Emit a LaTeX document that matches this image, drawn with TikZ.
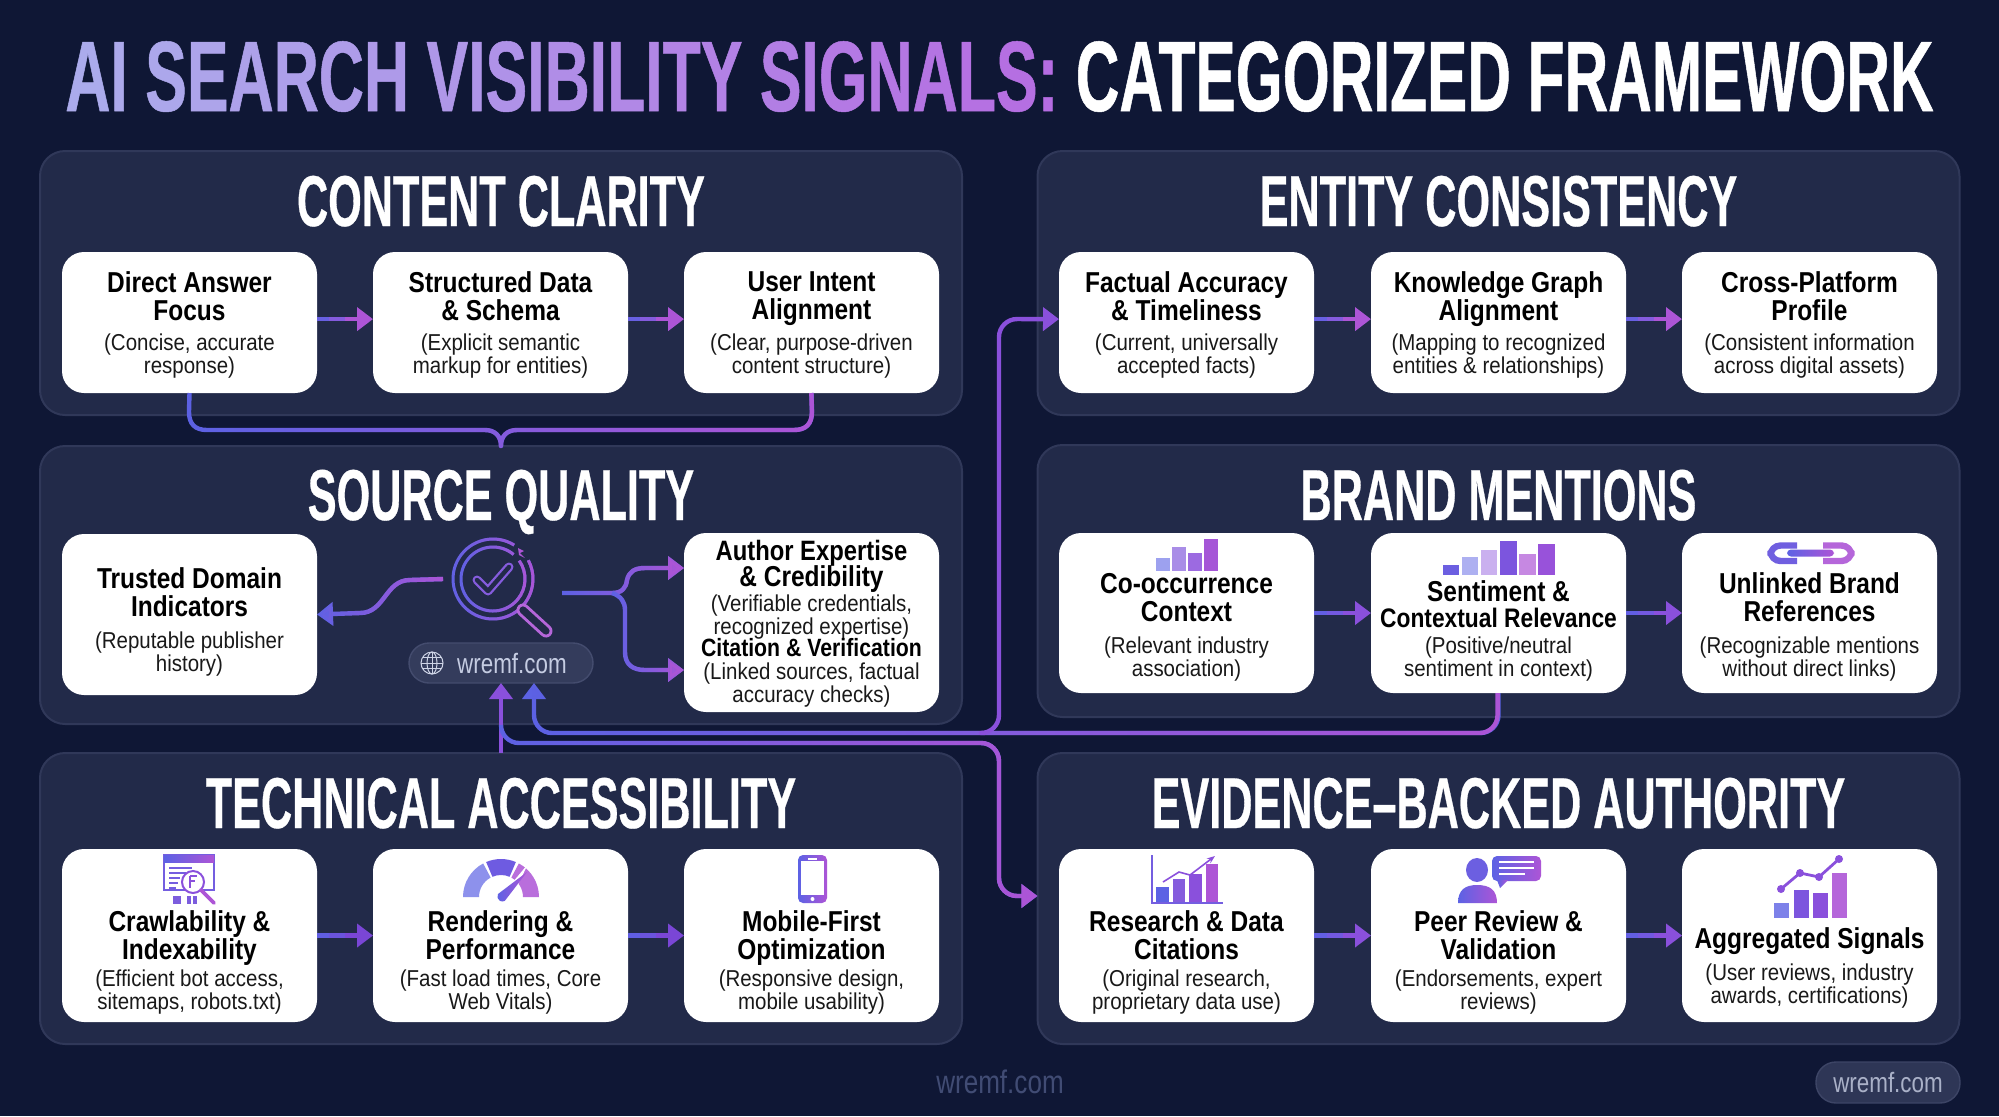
\documentclass[tikz,border=0pt]{standalone}
\usepackage{fontspec}
\usetikzlibrary{arrows.meta,fadings}
\setmainfont{Liberation Sans}
\newfontfamily\bannerfont[FakeStretch=0.625,FakeBold=0.5]{Liberation Sans}
\newfontfamily\bannerwhite[FakeStretch=0.604,FakeBold=0.5]{Liberation Sans}
\newfontfamily\panelfont[FakeStretch=0.6,FakeBold=0.4]{Liberation Sans}
\newfontfamily\signalfont[FakeStretch=0.85]{Liberation Sans}
\newfontfamily\notefont[FakeStretch=0.89]{Liberation Sans}
\newfontfamily\webfont[FakeStretch=0.8]{Liberation Sans}
\definecolor{pagebg}{HTML}{0F1735}
\definecolor{panelbg}{HTML}{222A49}
\definecolor{panelline}{HTML}{303859}
\definecolor{flowblue}{HTML}{5C62E4}
\definecolor{flowpurple}{HTML}{AD55D6}
\definecolor{flowmid}{HTML}{8A50DC}
\definecolor{flowdeep}{HTML}{7A46D6}
\definecolor{pillbg}{HTML}{343C5C}
\definecolor{pillline}{HTML}{444C6E}
\definecolor{webtext}{HTML}{C5CCE2}
\definecolor{foottext}{HTML}{414C74}
\definecolor{titlea}{HTML}{ABAEEC}
\definecolor{titleb}{HTML}{B56FE2}
% letter by letter colour for the first half of the banner
\newcount\gradpos
\def\gradword#1{\gradnext#1\relax}
\def\gradnext#1{\ifx#1\relax\else\global\advance\gradpos by 4 \textcolor{titleb!\the\gradpos!titlea}{#1}\expandafter\gradnext\fi}
\def\tightlines{\lineskiplimit=-20pt\relax}
\begin{document}
\begin{tikzpicture}[x=0.5pt,y=-0.5pt,>={Triangle[length=8pt,width=11.5pt]},
  panelbox/.style={draw=panelline,fill=panelbg,line width=1pt,rounded corners=12.5pt,anchor=north west,minimum width=461pt,inner sep=0pt,outer sep=0pt},
  paneltitle/.style={anchor=base,text=white,font=\panelfont\fontsize{36}{36}\selectfont\bfseries},
  signalbox/.style={fill=white,rounded corners=11pt,anchor=north,minimum width=127.5pt,inner sep=0pt,outer sep=0pt},
  headtext/.style={align=center,text=black,inner sep=0pt,font=\signalfont\fontsize{14.4}{14}\selectfont\bfseries\tightlines},
  subtext/.style={align=center,text=black!90,inner sep=0pt,font=\notefont\fontsize{11.5}{11.7}\selectfont\tightlines},
  pillbox/.style={draw=pillline,fill=pillbg,line width=.7pt,rounded corners=10pt,inner sep=0pt,outer sep=0pt},
  webtextnode/.style={text=webtext,inner sep=0pt,font=\webfont\fontsize{14}{14}\selectfont},
  flowstep/.style={draw=#1,line width=2.2pt,->,postaction={draw=#1!50!flowblue,-,shorten >=14pt},postaction={draw=#1!15!flowblue,-,shorten >=22pt}},
  flowbend/.style={draw=flowblue,line width=2.2pt,line join=round,postaction={draw=flowpurple,path fading=west}},
  flowplain/.style={draw=flowmid,line width=2.2pt,line join=round},
  iconline/.style={draw=flowblue,line width=1.5pt,postaction={draw=flowpurple,path fading=west}},
  iconshade/.style={left color=flowblue,right color=flowpurple}]
\def\panel#1#2#3#4#5#6{
  \node[panelbox,minimum height=#4*0.5pt] (#1) at (#2,#3) {};
  \node[paneltitle] (#1T) at ({#2+461},#5) {#6};
}
\def\signal#1#2#3#4#5#6#7#8{
  \node[signalbox,minimum height=#4*0.5pt] (#1) at ({#2+127.5},#3) {};
  \node[headtext] (#1H) at ({#2+127.5},#5) {\strut #6\strut};
  \node[subtext] (#1S) at ({#2+127.5},#7) {\strut #8\strut};
}
\useasboundingbox (0,0) rectangle (1999,1116);
\fill[pagebg] (0,0) rectangle (1999,1116);

\node[anchor=base,inner sep=0pt,font=\bannerfont\fontsize{50}{50}\selectfont\bfseries] (banner) at (999.5,111)
  {\gradword{AI} \gradword{SEARCH} \gradword{VISIBILITY} \gradword{SIGNALS:} \textcolor{white}{\bannerwhite\bfseries CATEGORIZED FRAMEWORK}};

\panel{pContent}{40}{151}{264}{226}{CONTENT CLARITY}
\panel{pSource}{40}{446}{278}{520}{SOURCE QUALITY}
\panel{pTech}{40}{753}{291}{828}{TECHNICAL ACCESSIBILITY}
\panel{pEntity}{1037.5}{151}{264}{226}{ENTITY CONSISTENCY}
\panel{pBrand}{1037.5}{445}{272}{520}{BRAND MENTIONS}
\panel{pEvidence}{1037.5}{753}{291}{828}{EVIDENCE–BACKED AUTHORITY}

% content clarity
\signal{dAnswer}{62}{252}{141}{300}{Direct Answer\\Focus}{357}{(Concise, accurate\\response)}
\signal{sData}{373}{252}{141}{300}{Structured Data\\\& Schema}{357}{(Explicit semantic\\markup for entities)}
\signal{uIntent}{684}{252}{141}{300}{User Intent\\Alignment}{357}{(Clear, purpose-driven\\content structure)}

% entity consistency
\signal{fAccuracy}{1059}{252}{141}{300}{Factual Accuracy\\\& Timeliness}{357}{(Current, universally\\accepted facts)}
\signal{kGraph}{1371}{252}{141}{300}{Knowledge Graph\\Alignment}{357}{(Mapping to recognized\\entities \& relationships)}
\signal{cProfile}{1682}{252}{141}{300}{Cross-Platform\\Profile}{357}{(Consistent information\\across digital assets)}

% source quality
\signal{tDomain}{62}{534}{161}{596}{Trusted Domain\\Indicators}{655}{(Reputable publisher\\history)}
\signal{aExpert}{684}{533}{179}{568}{{\fontsize{14}{14}\selectfont Author Expertise}\\[-1pt]\& Credibility}{618}{(Verifiable credentials,\\recognized expertise)}
\node[headtext,font=\signalfont\fontsize{12.5}{14}\selectfont\bfseries] (aExpertC) at (811.5,651) {\strut Citation \& Verification\strut};
\node[subtext] (aExpertL) at (811.5,686) {\strut (Linked sources, factual\\accuracy checks)\strut};

% brand mentions
\signal{cContext}{1059}{533}{160}{602}{Co-occurrence\\Context}{660}{(Relevant industry\\association)}
\signal{sRelevance}{1371}{533}{160}{608}{Sentiment \&\\[-1pt]{\fontsize{13.4}{14}\selectfont Contextual Relevance}}{660}{(Positive/neutral\\sentiment in context)}
\signal{uBrand}{1682}{533}{160}{601}{Unlinked Brand\\References}{660}{(Recognizable mentions\\without direct links)}

% technical accessibility
\signal{cIndex}{62}{849}{173}{939}{Crawlability \&\\Indexability}{993}{(Efficient bot access,\\sitemaps, robots.txt)}
\signal{rPerf}{373}{849}{173}{939}{Rendering \&\\Performance}{993}{(Fast load times, Core\\Web Vitals)}
\signal{mOptim}{684}{849}{173}{939}{Mobile-First\\Optimization}{993}{(Responsive design,\\mobile usability)}

% evidence
\signal{rCitation}{1059}{849}{173}{939}{Research \& Data\\Citations}{993}{(Original research,\\proprietary data use)}
\signal{pReview}{1371}{849}{173}{939}{Peer Review \&\\Validation}{993}{(Endorsements, expert\\reviews)}
\signal{aSignals}{1682}{849}{173}{942}{Aggregated Signals}{987}{(User reviews, industry\\awards, certifications)}

% pills
\node[pillbox,minimum width=92pt,minimum height=20pt] (pill) at (501,663) {};
\node[webtextnode] (pillT) at (512,663) {wremf.com};
\node[pillbox,minimum width=72pt,minimum height=20.5pt,draw=pillline!55!pillbg,fill=pillbg!85!pagebg] (badge) at (1888,1082.5) {};
\node[webtextnode,text=webtext!85!pagebg] (badgeT) at (1888,1082) {wremf.com};
\node[webtextnode,text=foottext,font=\webfont\fontsize{16.3}{16}\selectfont] (footT) at (1000,1082) {wremf.com};

% globe in the pill
\begin{scope}[shift={(432,663)},y=0.5pt,draw=webtext!85,line width=.5pt]
\draw (0,0) circle[radius=11];
\draw (0,0) ellipse[x radius=5,y radius=11];
\draw (-11,0) -- (11,0);
\draw (-9.5,5.5) -- (9.5,5.5);
\draw (-9.5,-5.5) -- (9.5,-5.5);
\draw (0,-11) -- (0,11);
\end{scope}

% short arrows
\foreach \a/\b in {dAnswer/sData,sData/uIntent,fAccuracy/kGraph,kGraph/cProfile}{
  \draw[flowstep=flowpurple] ([yshift=1.7pt]\a.east) -- ([yshift=1.7pt]\b.west);
}
\foreach \a/\b/\c in {cContext/sRelevance/flowmid,sRelevance/uBrand/flowmid,cIndex/rPerf/flowdeep,rPerf/mOptim/flowdeep,rCitation/pReview/flowmid,pReview/aSignals/flowmid}{
  \draw[flowstep=\c] (\a.east) -- (\b.west);
}

% long connectors
\draw[flowbend] (dAnswer.south) -- (189,412) .. controls (189,424) and (195,430) .. (207,430) -- (485,430) .. controls (495,430) and (501,436) .. (pSource.north) .. controls (501,436) and (507,430) .. (517,430) -- (794,430) .. controls (806,430) and (812,424) .. (812,412) -- (uIntent.south);
\node[circle,minimum size=50pt,inner sep=0pt,outer sep=0pt] (lens) at (493,579) {};
\coordinate (lensOut) at (562,593);
\coordinate (lensFork) at (612,593);
\draw[flowbend,<-] (tDomain.east) -- (360,613) .. controls (385,613) and (385,580) .. (410,580) -- (lens.west);
\draw[flowbend,->] (lensOut) -- (lensFork) .. controls (622,593) and (626,588) .. (627,580) .. controls (629,572) and (634,568) .. (645,568) -- (aExpert.west |- 0,568);
\draw[flowbend,->] (lensFork) .. controls (621,596) and (625,602) .. (625,610) -- (625,652) .. controls (625,664) and (632,670) .. (645,670) -- (aExpert.west |- 0,670);
\draw[flowbend,rounded corners=9pt,->] (sRelevance.south) -- (sRelevance.south |- 0,733) -- (534,733) -- (pill.south -| 534,0);
\draw[flowplain,rounded corners=9pt,->] (985,733) -- (999,733) -- (999,319) -- ([yshift=1.7pt]fAccuracy.west);
\draw[flowplain,->] (pTech.north) -- (pill.south);
\draw[flowbend,rounded corners=9pt,->] (501,725) -- (501,743) -- (999,743) -- (999,896) -- (pEvidence.west |- 0,896);

% lens icon
\begin{scope}[shift={(493,579)},y=0.5pt]
\draw[iconline] (58:40) arc[start angle=58,end angle=388,radius=40];
\draw[iconline] (50:32) arc[start angle=50,end angle=395,radius=32];
\draw[flowblue!50!flowpurple,line width=4.5pt,line join=round,line cap=round] (-16,-1) -- (-5,-12) -- (16,12);
\draw[panelbg,line width=2.2pt,line join=round,line cap=round] (-16,-1) -- (-5,-12) -- (16,12);
\draw[flowpurple!90,line width=6.5pt,line cap=round] (30,-31) -- (53,-52);
\draw[panelbg,line width=3.6pt,line cap=round] (30,-31) -- (53,-52);
\fill[flowpurple] (25,31) -- (31,28) -- (27,26) -- (32,21) -- (26,24) -- cycle;
\end{scope}

% crawl icon
\draw[flowblue!70!flowpurple,line width=.7pt] (164,855) rectangle (214,890);
\shade[iconshade] (164,855) rectangle (214,862);
\foreach \y/\l in {868/192,873/186,878/180,883/178,888/176}{
  \draw[flowblue!70!flowpurple,line width=.7pt] (169,\y) -- (\l,\y);
}
\fill[white,draw=flowmid,line width=1pt] (193,882) circle[radius=11];
\draw[flowpurple,line width=1.8pt,line cap=round] (201,890) -- (214,903);
\draw[flowmid,line width=.6pt] (190,876) -- (197,876) (190,876) -- (190,888) (190,881) -- (195,881);
\fill[flowblue!60!flowpurple] (173,896) rectangle (181,904);
\fill[flowblue!60!flowpurple] (187,896) rectangle (191,904);
\fill[flowblue!60!flowpurple] (193,896) rectangle (197,904);

% gauge icon
\begin{scope}[shift={(501,897)},y=0.5pt]
\fill[flowblue!70!white] (180:38) arc[start angle=180,end angle=118,radius=38] -- (118:22) arc[start angle=118,end angle=180,radius=22] -- cycle;
\fill[flowblue!60!flowmid] (113:38) arc[start angle=113,end angle=67,radius=38] -- (67:22) arc[start angle=67,end angle=113,radius=22] -- cycle;
\fill[flowpurple!85!white] (62:38) arc[start angle=62,end angle=0,radius=38] -- (0:22) arc[start angle=0,end angle=62,radius=22] -- cycle;
\fill[white] (27,33) -- (-4,-4) -- (8,-6) -- cycle;
\shade[iconshade] (26,25) -- (-3,3) arc[start angle=150,end angle=300,radius=5] -- cycle;
\end{scope}

% phone icon
\shade[iconshade,rounded corners=2.5pt] (798,855) rectangle (827,903);
\fill[white] (801,861) rectangle (824,895);
\fill[white] (808,857.5) rectangle (817,859.5);
\fill[white] (812.5,899) circle[radius=2];

% bar icons
\foreach \xa/\xb/\t/\c in {1156/1170/558/flowblue!60!white,1172/1186/547/flowblue!50!flowpurple!70!white,1188/1202/553/flowmid!85!white,1204/1218/539/flowpurple!90!flowblue}{
  \fill[\c] (\xa,\t) rectangle (\xb,571);
}
\foreach \xa/\xb/\t/\c in {1443/1459/565/flowblue!80!flowpurple,1462/1478/557/flowblue!50!white,1481/1497/550/flowmid!45!white,1500/1517/541/flowmid!70!flowblue,1519/1536/554/flowpurple!70!white,1538/1555/544/flowmid!60!flowpurple}{
  \fill[\c] (\xa,\t) rectangle (\xb,575);
}

% chain icon
\draw[flowblue!75!flowpurple,line width=3.2pt,rounded corners=5pt] (1797,545.5) -- (1770.5,545.5) -- (1770.5,561) -- (1797,561);
\draw[flowpurple!90,line width=3.2pt,rounded corners=5pt] (1823,545.5) -- (1851.5,545.5) -- (1851.5,561) -- (1823,561);
\shade[iconshade,rounded corners=2pt] (1787,549.5) rectangle (1834,556.5);

% research icon
\draw[flowblue!70!flowpurple,line width=.7pt] (1152,855) -- (1152,903) -- (1223,903);
\foreach \xa/\xb/\t/\c in {1156/1169/887/flowblue,1173/1185/879/flowblue!50!flowpurple,1189/1202/874/flowmid,1206/1218/864/flowpurple}{
  \fill[\c] (\xa,\t) rectangle (\xb,902);
}
\draw[flowmid,line width=.8pt,-{Stealth[length=4pt]}] (1163,882) -- (1179,872) -- (1190,875) -- (1215,856);

% peer icon
\fill[flowblue!80!flowpurple] (1477,870) ellipse[x radius=11,y radius=12];
\shade[iconshade] (1458,903) .. controls (1458,890) and (1465,885) .. (1477,885) .. controls (1490,885) and (1497,890) .. (1497,903) -- cycle;
\shade[iconshade,rounded corners=2.5pt] (1492,856) rectangle (1541,881);
\shade[iconshade] (1497,880) -- (1500,888) -- (1508,880) -- cycle;
\foreach \y/\l in {862/1534,868/1534,874/1525}{
  \draw[white,line width=1pt] (1499,\y) -- (\l,\y);
}

% aggregated icon
\foreach \xa/\xb/\t/\c in {1774/1789/903/flowblue!80!white,1794/1809/890/flowmid!70!flowblue,1813/1828/893/flowmid,1832/1847/873/flowpurple!90}{
  \fill[\c] (\xa,\t) rectangle (\xb,918);
}
\draw[flowmid,line width=1.4pt] (1781,889) -- (1800,873) -- (1819,877) -- (1839,859);
\foreach \x/\y in {1781/889,1800/873,1819/877,1839/859}{
  \fill[flowmid] (\x,\y) circle[radius=4];
}
\end{tikzpicture}
\end{document}
